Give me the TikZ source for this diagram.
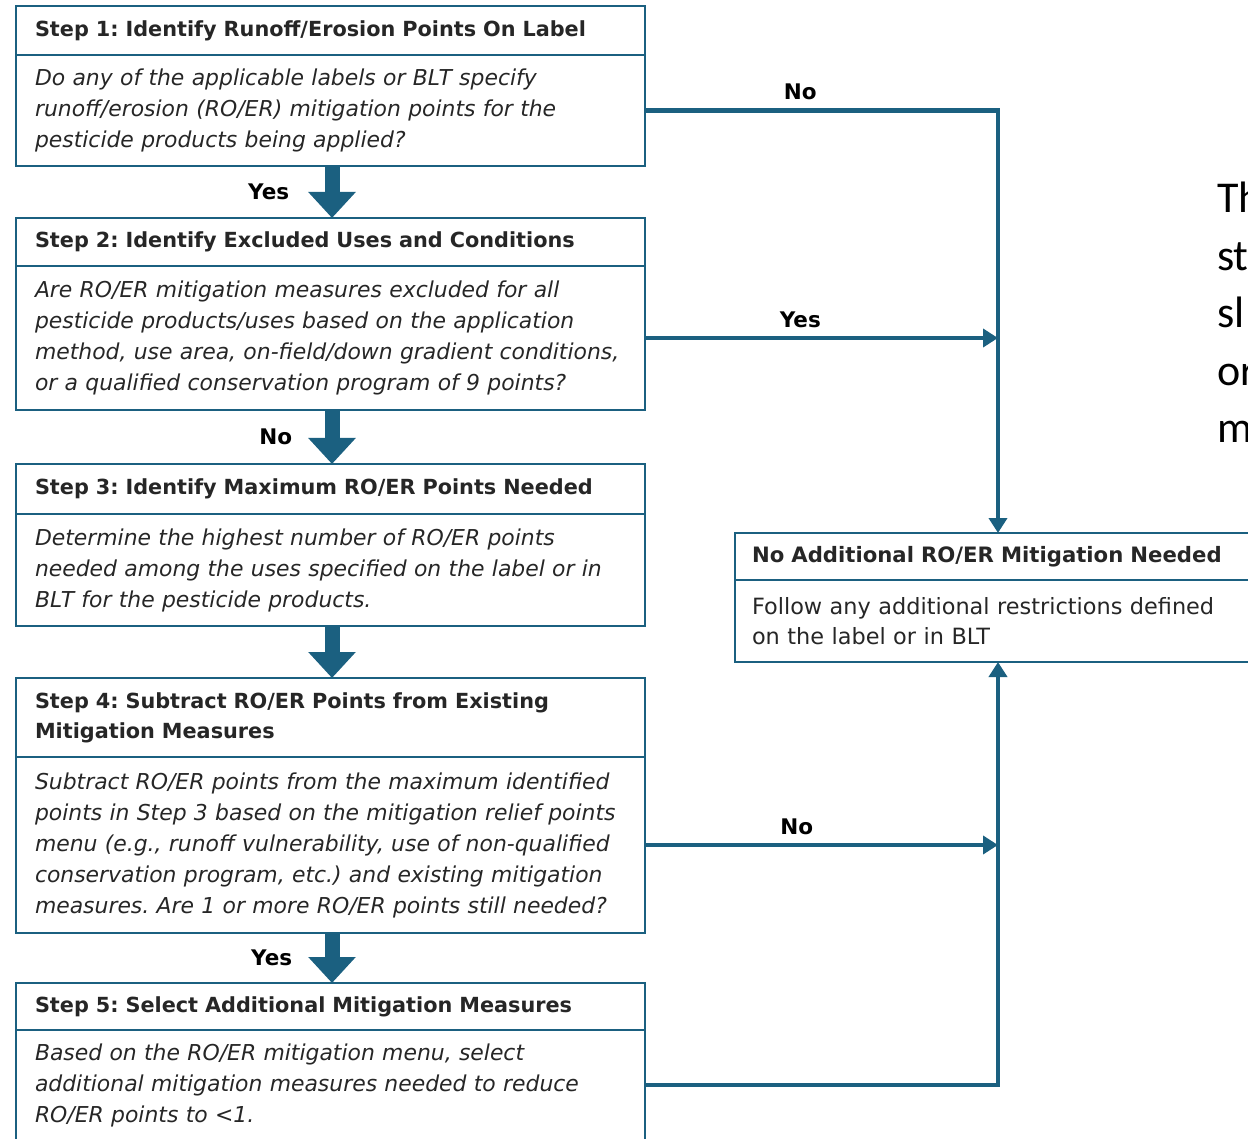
\documentclass[tikz,border=0pt]{standalone}
\usepackage{fontspec}
\setmainfont{DejaVu Sans}
\newfontfamily\slidefont{Carlito}
\usetikzlibrary{positioning,arrows.meta}
\definecolor{flowblue}{RGB}{27,96,128}
\definecolor{boxtext}{RGB}{38,38,38}
\frenchspacing

\tikzset{
  stepbox/.style={draw=flowblue, line width=2.8pt, outer sep=0pt, minimum width=629pt,
    text width=591pt, inner xsep=19pt, inner ysep=2pt, align=left, text=boxtext},
  stephead/.style={stepbox, font=\bfseries\fontsize{20.8}{30}\selectfont},
  stepbody/.style={stepbox, font=\itshape\fontsize{21.9}{31}\selectfont},
  flow/.style={draw=flowblue, line width=4.5pt, -{Triangle[width=18pt,length=15pt]}},
  bigflow/.style={draw=flowblue, line width=15pt, -{Triangle[width=46pt,length=26pt]}},
  lbl/.style={font=\bfseries\fontsize{21.5}{24}\selectfont, text=black},
}

\begin{document}
\begin{tikzpicture}[x=1pt, y=-1pt]
  \useasboundingbox (0,0) rectangle (1248,1139);
  \clip (0,0) rectangle (1248,1139);

  % step boxes
  \node[stephead, anchor=north west, minimum height=49pt] (t1) at (16,6)
    {Step 1: Identify Runoff/Erosion Points On Label};
  \node[stepbody, below=0pt of t1, minimum height=111pt] (b1)
    {Do any of the applicable labels or BLT specify\\
     runoff/erosion (RO/ER) mitigation points for the\\
     pesticide products being applied?};

  \node[stephead, anchor=north west, minimum height=48pt] (t2) at (16,218)
    {Step 2: Identify Excluded Uses and Conditions};
  \node[stepbody, below=0pt of t2, minimum height=144pt] (b2)
    {Are RO/ER mitigation measures excluded for all\\
     pesticide products/uses based on the application\\
     method, use area, on-field/down gradient conditions,\\
     or a qualified conservation program of 9 points?};

  \node[stephead, anchor=north west, minimum height=50pt] (t3) at (16,464)
    {Step 3: Identify Maximum RO/ER Points Needed};
  \node[stepbody, below=0pt of t3, minimum height=112pt] (b3)
    {Determine the highest number of RO/ER points\\
     needed among the uses specified on the label or in\\
     BLT for the pesticide products.};

  \node[stephead, anchor=north west, minimum height=79pt] (t4) at (16,678)
    {Step 4: Subtract RO/ER Points from Existing\\
     Mitigation Measures};
  \node[stepbody, below=0pt of t4, minimum height=176pt] (b4)
    {Subtract RO/ER points from the maximum identified\\
     points in Step 3 based on the mitigation relief points\\
     menu (e.g., runoff vulnerability, use of non-qualified\\
     conservation program, etc.) and existing mitigation\\
     measures. Are 1 or more RO/ER points still needed?};

  \node[stephead, anchor=north west, minimum height=47pt] (t5) at (16,983)
    {Step 5: Select Additional Mitigation Measures};
  \node[stepbody, below=0pt of t5, minimum height=110pt] (b5)
    {Based on the RO/ER mitigation menu, select\\
     additional mitigation measures needed to reduce\\
     RO/ER points to <1.};

  % outcome box
  \node[stephead, anchor=north west, minimum height=47pt, minimum width=530pt,
    text width=496pt, inner xsep=17pt, font=\bfseries\fontsize{21.2}{30}\selectfont] (nt)
    at (735,533) {No Additional RO/ER Mitigation Needed};
  \node[stepbox, below=0pt of nt, minimum height=82pt, minimum width=530pt,
    text width=496pt, inner xsep=17pt, font=\fontsize{22.4}{30}\selectfont] (nb)
    {Follow any additional restrictions defined\\
     on the label or in BLT};

  % text of the next slide, cut off
  \node[font=\slidefont\fontsize{44}{57.5}\selectfont, anchor=north west, align=left,
    inner sep=0pt] (slide) at (1217,182) {Th\\ st\\ sl\\ or\\ m};

  \coordinate (ax) at (332,0);
  \coordinate (vx) at (998,0);

  % down arrows
  \draw[bigflow] (b1.south -| ax) -- node[lbl, left=32pt] {Yes} (t2.north -| ax);
  \draw[bigflow] (b2.south -| ax) -- node[lbl, left=29pt] {No} (t3.north -| ax);
  \draw[bigflow] (b3.south -| ax) -- (t4.north -| ax);
  \draw[bigflow] (b4.south -| ax) -- node[lbl, left=29pt] {Yes} (t5.north -| ax);

  % side connectors
  \draw[flow] (b1.east) -| node[lbl, above=5pt, pos=0.22] {No} (nt.north -| vx);
  \draw[flow] (b2.east) -- node[lbl, above=5pt, pos=0.44] {Yes} (b2.east -| vx);
  \draw[flow] (b4.east) -- node[lbl, above=5pt, pos=0.43] {No} (b4.east -| vx);
  \draw[flow] (b5.east) -| (nb.south -| vx);
\end{tikzpicture}
\end{document}
